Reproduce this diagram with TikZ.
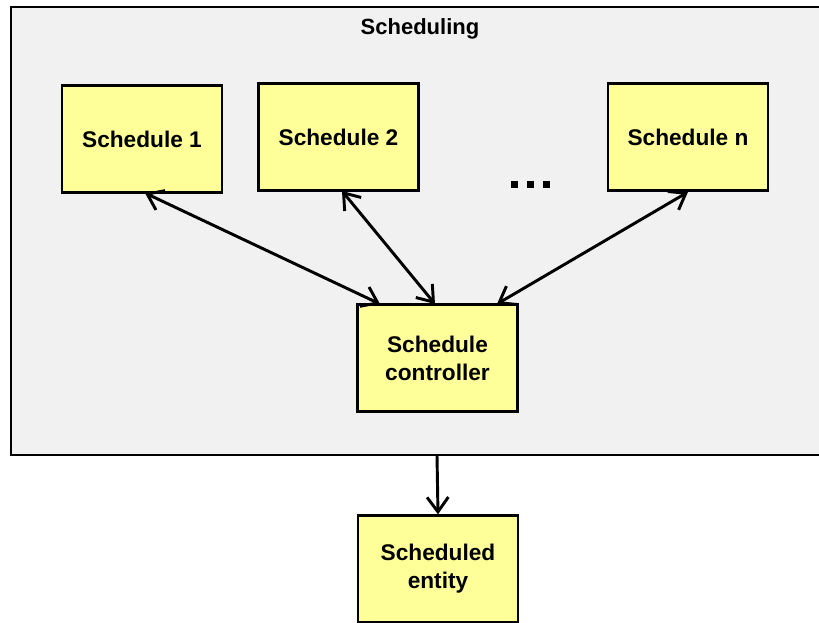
\documentclass[tikz,border=0pt]{standalone}
\usepackage{fontspec}
\setmainfont{Liberation Sans}
\usetikzlibrary{arrows.meta}
\definecolor{boxfill}{HTML}{FFFF99}
\definecolor{panel}{HTML}{F1F1F1}
\begin{document}
\begin{tikzpicture}[x=0.75pt,y=-0.75pt,
  sbox/.style={draw=black,line width=2pt,fill=boxfill,minimum width=120pt,minimum height=80pt,inner sep=0pt,align=center,font=\bfseries\fontsize{17}{21}\selectfont},
  conn/.style={line width=2.2pt,-{Straight Barb[length=11pt,width=16pt,line width=2.2pt]}},
  bconn/.style={line width=2.2pt,{Straight Barb[length=11pt,width=16pt,line width=2.2pt]}-{Straight Barb[length=11pt,width=16pt,line width=2.2pt]}}]
\useasboundingbox (0,0) rectangle (819,623);
\begin{scope}
\clip (0,0) rectangle (819,623);
\fill[panel] (11,7) rectangle (840,455);
\draw[line width=2pt] (840,7) -- (11,7) -- (11,455) -- (840,455);
\coordinate (pb) at (437,455);
\node[font=\bfseries\fontsize{16.5}{20}\selectfont] (title) at (420,28.5) {Scheduling};
\node[sbox] (s1) at (142,139) {Schedule 1};
\node[sbox] (s2) at (338.5,137) {Schedule 2};
\node[sbox] (sn) at (688,137) {Schedule n};
\node[sbox] (ctrl) at (437.5,358) {Schedule\\controller};
\node[sbox] (ent) at (438,569) {Scheduled\\entity};
\foreach \xx in {514,530,546} \fill (\xx-3.5,181.5) rectangle (\xx+3.5,188.5);
\draw[bconn] (145,193) -- (380,304);
\draw[bconn] (342,191) -- (435,304);
\draw[bconn] (688,192) -- (497,304);
\draw[conn] (pb) -- (ent.north);
\end{scope}
\end{tikzpicture}
\end{document}
